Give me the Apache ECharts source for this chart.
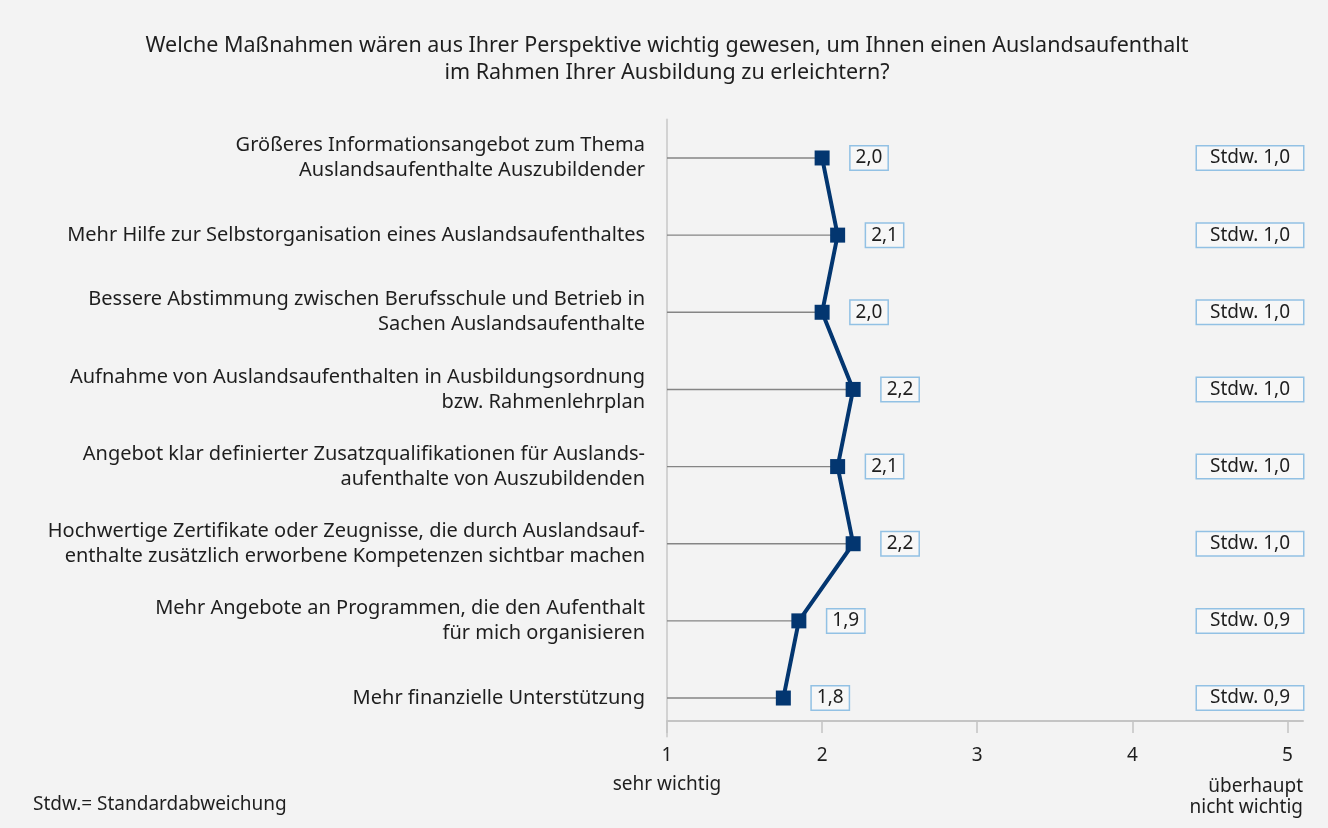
<!DOCTYPE html>
<html>
<head>
<meta charset="utf-8">
<script src="https://cdn.jsdelivr.net/npm/echarts@6/dist/echarts.min.js"></script>
<style>
  html, body { margin: 0; padding: 0; background: #f3f3f3; }
  #chart { width: 1328px; height: 828px; }
</style>
</head>
<body>
<div id="chart"></div>
<script>
const categories = [
  'Größeres Informationsangebot zum Thema\nAuslandsaufenthalte Auszubildender',
  'Mehr Hilfe zur Selbstorganisation eines Auslandsaufenthaltes',
  'Bessere Abstimmung zwischen Berufsschule und Betrieb in\nSachen Auslandsaufenthalte',
  'Aufnahme von Auslandsaufenthalten in Ausbildungsordnung\nbzw. Rahmenlehrplan',
  'Angebot klar definierter Zusatzqualifikationen für Auslands-\naufenthalte von Auszubildenden',
  'Hochwertige Zertifikate oder Zeugnisse, die durch Auslandsauf-\nenthalte zusätzlich erworbene Kompetenzen sichtbar machen',
  'Mehr Angebote an Programmen, die den Aufenthalt\nfür mich organisieren',
  'Mehr finanzielle Unterstützung'
]
const means = [2.0, 2.1, 2.0, 2.2, 2.1, 2.2, 1.85, 1.75]
const meanLabels = ['2,0', '2,1', '2,0', '2,2', '2,1', '2,2', '1,9', '1,8']
const stdwLabels = ['Stdw. 1,0', 'Stdw. 1,0', 'Stdw. 1,0', 'Stdw. 1,0', 'Stdw. 1,0', 'Stdw. 1,0', 'Stdw. 0,9', 'Stdw. 0,9']
const xTicks = [1, 2, 3, 4, 5]

const FONT = 'Noto Sans'
const TEXT = '#1e1e1e'
const NAVY = '#033670'
const BOX_BORDER = '#92c1e4'

const chart = echarts.init(document.getElementById('chart'))

const points = means.map((v, i) => [v, i])

const option = {
  backgroundColor: '#f3f3f3',
  animation: false,
  textStyle: { fontFamily: FONT, color: TEXT },
  grid: { left: 667, right: 25, top: 119.4, bottom: 91.4 },
  xAxis: {
    type: 'value',
    min: 1,
    max: 5.1,
    interval: 1,
    offset: -15.6,
    axisLine: { show: true, lineStyle: { color: '#c4c4c4', width: 2 } },
    axisTick: { show: true, length: 12, customValues: xTicks, lineStyle: { color: '#c4c4c4', width: 1.5 } },
    axisLabel: { customValues: xTicks, margin: 25, fontSize: 19, color: TEXT, fontFamily: FONT },
    splitLine: { show: false }
  },
  yAxis: [
    {
      type: 'category',
      data: categories,
      inverse: true,
      axisLine: { show: true, lineStyle: { color: '#d2d2d2', width: 2 } },
      axisTick: { show: false },
      axisLabel: { margin: 22, fontSize: 20, lineHeight: 25, color: TEXT, fontFamily: FONT, align: 'right' }
    },
    {
      type: 'category',
      data: categories,
      inverse: true,
      position: 'right',
      axisLine: { show: false },
      axisTick: { show: false },
      axisLabel: {
        inside: true,
        margin: 0,
        fontSize: 19,
        lineHeight: 20,
        color: TEXT,
        fontFamily: FONT,
        formatter: (val, idx) => stdwLabels[idx],
        backgroundColor: '#f7f7f7',
        borderColor: BOX_BORDER,
        borderWidth: 1.5,
        padding: [2, 13, 1, 13]
      }
    }
  ],
  series: [
    {
      type: 'custom',
      z: 1,
      renderItem: (params, api) => {
        const start = api.coord([1, api.value(1)])
        const end = api.coord([api.value(0), api.value(1)])
        return {
          type: 'line',
          shape: { x1: start[0], y1: start[1], x2: end[0], y2: end[1] },
          style: { stroke: '#858585', lineWidth: 1.4 }
        }
      },
      data: points
    },
    {
      type: 'line',
      z: 3,
      data: points,
      symbol: 'rect',
      symbolSize: 15,
      lineStyle: { color: NAVY, width: 4 },
      itemStyle: { color: NAVY },
      label: {
        show: true,
        position: 'right',
        distance: 21,
        formatter: (p) => meanLabels[p.dataIndex],
        fontSize: 19,
        lineHeight: 20,
        color: TEXT,
        fontFamily: FONT,
        backgroundColor: '#f7f7f7',
        borderColor: BOX_BORDER,
        borderWidth: 1.5,
        padding: [2, 5, 1, 5]
      }
    }
  ],
  graphic: [
    {
      type: 'text',
      x: 667,
      y: 32,
      style: {
        text: 'Welche Maßnahmen wären aus Ihrer Perspektive wichtig gewesen, um Ihnen einen Auslandsaufenthalt\nim Rahmen Ihrer Ausbildung zu erleichtern?',
        font: '21.5px "Noto Sans"',
        fill: TEXT,
        align: 'center',
        verticalAlign: 'top',
        lineHeight: 27
      }
    },
    {
      type: 'text',
      x: 667,
      y: 775,
      style: { text: 'sehr wichtig', font: '19px "Noto Sans"', fill: TEXT, align: 'center', verticalAlign: 'top' }
    },
    {
      type: 'text',
      x: 1303,
      y: 776,
      style: { text: 'überhaupt\nnicht wichtig', font: '19px "Noto Sans"', fill: TEXT, align: 'right', verticalAlign: 'top', lineHeight: 21 }
    },
    {
      type: 'text',
      x: 33,
      y: 795,
      style: { text: 'Stdw.= Standardabweichung', font: '19px "Noto Sans"', fill: TEXT, verticalAlign: 'top' }
    }
  ]
}

chart.setOption(option)
</script>
</body>
</html>
